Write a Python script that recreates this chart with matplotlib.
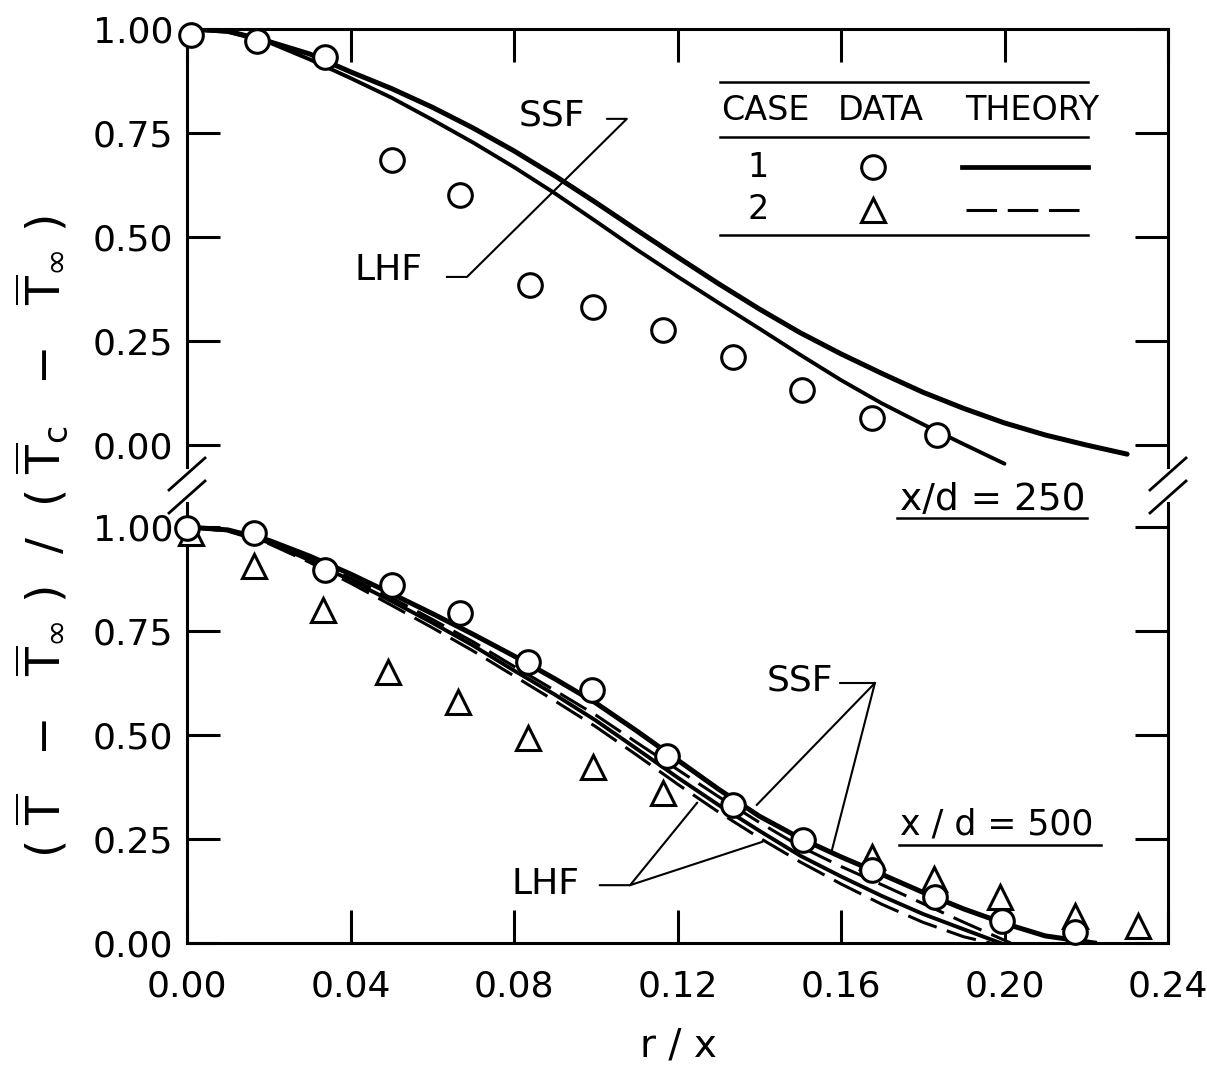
import numpy as np
import matplotlib.pyplot as plt
from matplotlib.lines import Line2D

# ---- x/d = 250 (upper panel) ----
top_r_case1 = [0.001, 0.0171, 0.0338, 0.0502, 0.0668, 0.0839, 0.0993, 0.1165, 0.1336, 0.1505, 0.1676, 0.1835]
top_T_case1 = [0.985, 0.971, 0.933, 0.685, 0.601, 0.385, 0.332, 0.276, 0.212, 0.132, 0.065, 0.024]

top_r_ssf = [0.0, 0.01, 0.02, 0.03, 0.04, 0.05, 0.06, 0.07, 0.08, 0.09, 0.10, 0.11, 0.12,
             0.13, 0.14, 0.15, 0.16, 0.17, 0.18, 0.19, 0.20, 0.21, 0.22, 0.23]
top_T_ssf = [1.0, 0.995, 0.97, 0.94, 0.897, 0.857, 0.812, 0.762, 0.707, 0.647, 0.583, 0.517, 0.452,
             0.388, 0.327, 0.27, 0.219, 0.172, 0.127, 0.088, 0.053, 0.024, 0.0, -0.022]
top_r_lhf = [0.0, 0.01, 0.02, 0.03, 0.04, 0.05, 0.06, 0.07, 0.08, 0.09, 0.10, 0.11, 0.12,
             0.13, 0.14, 0.15, 0.16, 0.17, 0.18, 0.19, 0.20]
top_T_lhf = [1.0, 0.993, 0.968, 0.927, 0.882, 0.835, 0.782, 0.727, 0.668, 0.605, 0.538, 0.47, 0.405,
             0.342, 0.28, 0.217, 0.156, 0.1, 0.05, 0.002, -0.045]

# ---- x/d = 500 (lower panel) ----
bot_r_case1 = [0.0, 0.0164, 0.0338, 0.0501, 0.0668, 0.0834, 0.0991, 0.1174, 0.1336, 0.1507,
               0.1676, 0.183, 0.1994, 0.2172]
bot_T_case1 = [0.998, 0.986, 0.897, 0.861, 0.793, 0.676, 0.608, 0.450, 0.332, 0.248,
               0.175, 0.111, 0.053, 0.026]
bot_r_case2 = [0.001, 0.0164, 0.0333, 0.0492, 0.0663, 0.0834, 0.0993, 0.1165, 0.1676, 0.1828,
               0.1989, 0.2172, 0.2327]
bot_T_case2 = [0.985, 0.907, 0.80, 0.651, 0.579, 0.493, 0.423, 0.361, 0.207, 0.154,
               0.110, 0.065, 0.041]

bot_r_ssf1 = [0.0, 0.01, 0.02, 0.03, 0.04, 0.05, 0.06, 0.07, 0.08, 0.09, 0.10, 0.11, 0.12,
              0.13, 0.14, 0.15, 0.16, 0.17, 0.18, 0.19, 0.20, 0.21, 0.222]
bot_T_ssf1 = [1.0, 0.993, 0.968, 0.93, 0.887, 0.84, 0.792, 0.742, 0.69, 0.635, 0.577, 0.51, 0.44,
              0.37, 0.305, 0.252, 0.207, 0.165, 0.122, 0.082, 0.047, 0.017, 0.0]
bot_r_lhf1 = [0.0, 0.01, 0.02, 0.03, 0.04, 0.05, 0.06, 0.07, 0.08, 0.09, 0.10, 0.11, 0.12,
              0.13, 0.14, 0.15, 0.16, 0.17, 0.18, 0.19, 0.199]
bot_T_lhf1 = [1.0, 0.992, 0.963, 0.92, 0.872, 0.822, 0.77, 0.715, 0.655, 0.597, 0.535, 0.467, 0.398,
              0.332, 0.27, 0.21, 0.16, 0.113, 0.07, 0.033, 0.0]
bot_r_ssf2 = [0.0, 0.01, 0.02, 0.03, 0.04, 0.05, 0.06, 0.07, 0.08, 0.09, 0.10, 0.11, 0.12,
              0.13, 0.14, 0.15, 0.16, 0.17, 0.18, 0.19, 0.2015]
bot_T_ssf2 = [1.0, 0.992, 0.965, 0.925, 0.877, 0.83, 0.778, 0.724, 0.665, 0.607, 0.548, 0.482, 0.417,
              0.352, 0.29, 0.232, 0.184, 0.14, 0.095, 0.05, 0.0]
bot_r_lhf2 = [0.0, 0.01, 0.02, 0.03, 0.04, 0.05, 0.06, 0.07, 0.08, 0.09, 0.10, 0.11, 0.12,
              0.13, 0.14, 0.15, 0.16, 0.17, 0.18, 0.19, 0.1965]
bot_T_lhf2 = [1.0, 0.99, 0.96, 0.915, 0.865, 0.812, 0.758, 0.702, 0.642, 0.582, 0.52, 0.452, 0.382,
              0.315, 0.253, 0.195, 0.142, 0.093, 0.05, 0.015, 0.0]

x_ticks = [0.00, 0.04, 0.08, 0.12, 0.16, 0.20, 0.24]
y_ticks = [0.00, 0.25, 0.50, 0.75, 1.00]

plt.rcParams['font.family'] = ['DejaVu Sans']
plt.rcParams['mathtext.fontset'] = 'dejavusans'
plt.rcParams['mathtext.default'] = 'regular'

FW, FH = 1207, 1067
LW_AX = 2.2
DASH = (10, 3.5)
circ = dict(marker='o', ms=17, mfc='white', mec='black', mew=2.2, ls='none', zorder=5, clip_on=False)
tri = dict(marker='^', ms=17, mfc='white', mec='black', mew=2.2, ls='none', zorder=4, clip_on=False)


def px(x, y):
    return x / FW, 1 - y / FH


fig = plt.figure(figsize=(FW / 100, FH / 100), dpi=100)
left, right = 187 / FW, 1168 / FW
ax_top = fig.add_axes([left, 1 - 467 / FH, right - left, (467 - 29) / FH])
ax_bot = fig.add_axes([left, 1 - 943 / FH, right - left, (943 - 503) / FH])
ax_top.set_zorder(2)

for ax in (ax_top, ax_bot):
    ax.patch.set_visible(False)
    ax.set_xlim(0, 0.24)
    ax.set_xticks(x_ticks)
    ax.set_yticks(y_ticks)
    ax.set_yticklabels([f'{v:.2f}' for v in y_ticks])
    ax.set_xticklabels([f'{v:.2f}' for v in x_ticks])
    for s in ax.spines.values():
        s.set_linewidth(LW_AX)
    ax.tick_params(direction='in', length=24, width=LW_AX, labelsize=26, right=True)
    ax.tick_params(axis='y', pad=10)
    ax.tick_params(axis='x', pad=19)

ax_top.set_ylim(1 - 438 / 416, 1.0)
ax_bot.set_ylim(0, 440 / 416)
ax_top.spines['bottom'].set_visible(False)
ax_bot.spines['top'].set_visible(False)
ax_top.tick_params(top=True, bottom=False, labelbottom=False)
ax_bot.tick_params(top=False)

# upper panel
ax_top.plot(top_r_ssf, top_T_ssf, color='black', lw=3.6, solid_capstyle='round', zorder=3)
ax_top.plot(top_r_lhf, top_T_lhf, color='black', lw=2.8, solid_capstyle='round', zorder=3)
ax_top.plot(top_r_case1, top_T_case1, **circ)

# lower panel
ax_bot.plot(bot_r_ssf1, bot_T_ssf1, color='black', lw=3.6, zorder=3)
ax_bot.plot(bot_r_lhf1, bot_T_lhf1, color='black', lw=2.8, zorder=3)
ax_bot.plot(bot_r_ssf2, bot_T_ssf2, color='black', lw=2.2, dashes=DASH, zorder=3)
ax_bot.plot(bot_r_lhf2, bot_T_lhf2, color='black', lw=2.2, dashes=DASH, zorder=3)
ax_bot.plot(bot_r_case2, bot_T_case2, **tri)
ax_bot.plot(bot_r_case1, bot_T_case1, **circ)

# labels with leader lines, upper panel
ax_top.text(0.0893, 0.791, 'SSF', fontsize=26, ha='center', va='center')
ax_top.text(0.0492, 0.421, 'LHF', fontsize=26, ha='center', va='center')
ax_top.plot([0.1028, 0.1076, 0.0685, 0.0636], [0.784, 0.784, 0.404, 0.404], color='black', lw=1.5)

# labels with leader lines, lower panel
ax_bot.text(0.150, 0.632, 'SSF', fontsize=26, ha='center', va='center')
ax_bot.plot([0.1598, 0.1683, 0.1394], [0.625, 0.625, 0.332], color='black', lw=1.5)
ax_bot.plot([0.1683, 0.1578], [0.625, 0.224], color='black', lw=1.5)
ax_bot.text(0.0876, 0.142, 'LHF', fontsize=26, ha='center', va='center')
ax_bot.plot([0.1010, 0.1084, 0.1248], [0.139, 0.139, 0.337], color='black', lw=1.5)
ax_bot.plot([0.1084, 0.1407], [0.139, 0.243], color='black', lw=1.5)

# case table in upper panel
tx0, tx1 = 0.1304, 0.2204
for yy in (0.873, 0.740, 0.505):
    ax_top.plot([tx0, tx1], [yy, yy], color='black', lw=1.8)
ax_top.text(0.1414, 0.805, 'CASE', fontsize=24, ha='center', va='center')
ax_top.text(0.1698, 0.805, 'DATA', fontsize=24, ha='center', va='center')
ax_top.text(0.2067, 0.805, 'THEORY', fontsize=24, ha='center', va='center')
ax_top.text(0.1397, 0.668, '1', fontsize=24, ha='center', va='center')
ax_top.text(0.1397, 0.565, '2', fontsize=24, ha='center', va='center')
ax_top.plot([0.1678], [0.668], **circ)
ax_top.plot([0.1678], [0.565], **tri)
ax_top.plot([0.1896, 0.2204], [0.668, 0.668], color='black', lw=3.4)
ax_top.plot([0.1905, 0.2204], [0.565, 0.565], color='black', lw=2.2, dashes=DASH)

# x/d annotations with underline
ax_top.text(0.1744, -0.132, 'x/d = 250', fontsize=27, ha='left', va='center', clip_on=False)
ax_top.plot([0.1737, 0.2202], [-0.175, -0.175], color='black', lw=1.8, clip_on=False)
ax_bot.text(0.1744, 0.284, 'x / d = 500', fontsize=25, ha='left', va='center')
ax_bot.plot([0.1741, 0.2235], [0.236, 0.236], color='black', lw=1.8)

# axis break marks
for xs in (187, 1168):
    for yc in (474, 497):
        x0, y0 = px(xs - 18, yc + 16)
        x1, y1 = px(xs + 18, yc - 16)
        fig.add_artist(Line2D([x0, x1], [y0, y1], transform=fig.transFigure, color='black', lw=2.0))

# axis titles
ylab = (r'$(\ \overline{T}\ \ -\ \ \overline{T}_{\infty}\ )\ \ /\ \ '
        r'(\ \overline{T}_{c}\ \ -\ \ \overline{T}_{\infty}\ )$')
fig.text(*px(42, 537), ylab, rotation=90, fontsize=34, ha='center', va='center')
fig.text(*px(678, 1045), 'r / x', fontsize=28, ha='center', va='center')

fig.savefig('out.png', dpi=100, facecolor='white')
